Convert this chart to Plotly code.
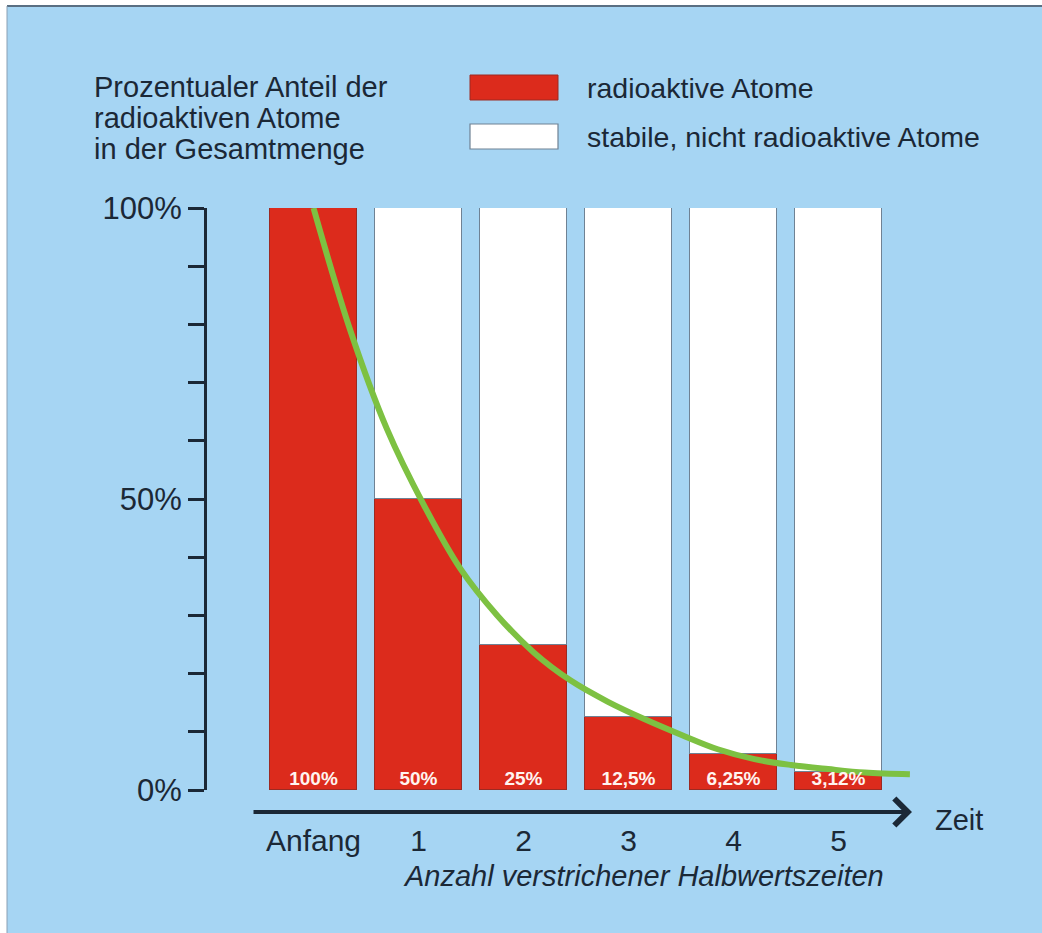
import plotly.graph_objects as go

# data
categories = ["Anfang", "1", "2", "3", "4", "5"]
radioactive = [100, 50, 25, 12.5, 6.25, 3.125]
stable = [100 - v for v in radioactive]
bar_labels = ["100%", "50%", "25%", "12,5%", "6,25%", "3,12%"]

curve_x = [0, 0.35, 0.7, 1.05, 1.4, 1.75, 2.1, 2.45, 2.8, 3.15, 3.5,
           3.85, 4.2, 4.55, 4.9, 5.25, 5.68]
curve_y = [100, 79, 62, 49, 38, 30.0, 23.6, 18.8, 15.2, 12.2, 9.5,
           7.0, 5.3, 4.3, 3.6, 3.0, 2.7]

y_ticks = [0, 10, 20, 30, 40, 50, 60, 70, 80, 90, 100]
y_ticktext = ["0%", "", "", "", "", "50%", "", "", "", "", "100%"]

BG = "#a6d5f3"
RED = "#dc2b1c"
GREEN = "#7dc142"
INK = "#1b2836"
FONT = "Liberation Sans, Arial, sans-serif"

# plot area in pixels: x 207..930, y 208..790
L, R, T, B = 207, 930, 208, 790


def px(x):
    return (x - L) / (R - L)


def py(y):
    return (B - y) / (B - T)


xpos = list(range(len(categories)))

fig = go.Figure()
fig.add_trace(go.Bar(x=xpos, y=radioactive, width=0.83,
                     marker_color=RED, marker_line_color="#9c2a22", marker_line_width=1))
fig.add_trace(go.Bar(x=xpos, y=stable, width=0.83,
                     marker_color="white", marker_line_color="#6f8294", marker_line_width=1.2))
fig.add_trace(go.Scatter(x=curve_x, y=curve_y, mode="lines",
                         line=dict(color=GREEN, width=6, shape="spline", smoothing=1),
                         cliponaxis=False))
fig.add_trace(go.Scatter(x=xpos, y=[1.7] * len(xpos), mode="text", text=bar_labels,
                         textfont=dict(family=FONT, size=19, color="#fff4f0", weight="bold"),
                         textposition="middle center", cliponaxis=False))

fig.update_layout(
    width=1042, height=933,
    margin=dict(l=L, r=1042 - R, t=T, b=933 - B),
    barmode="stack", showlegend=False,
    paper_bgcolor=BG, plot_bgcolor=BG,
    font=dict(family=FONT, color=INK),
    bargap=0,
)
fig.update_yaxes(range=[0, 100], tickvals=y_ticks, ticktext=y_ticktext,
                 showgrid=False, zeroline=False, showline=True,
                 linecolor=INK, linewidth=3, ticks="outside", ticklen=16,
                 tickwidth=3, tickcolor=INK, tickfont=dict(size=31, color=INK))
fig.update_xaxes(range=[(L - 313.5) / 105, (R - 313.5) / 105],
                 tickvals=xpos, ticktext=categories, showgrid=False,
                 zeroline=False, showline=False, ticks="",
                 ticklabelstandoff=30, tickfont=dict(size=30, color=INK))

# time arrow
fig.add_annotation(x=px(912), y=py(812), xref="paper", yref="paper",
                   ax=-(912 - 252), ay=0, text="", showarrow=True,
                   arrowhead=4, arrowsize=1.3, arrowwidth=4, arrowcolor=INK)

annots = [
    ("Prozentualer Anteil der", 92, 87, "left", False, 29),
    ("radioaktiven Atome", 92, 118, "left", False, 29),
    ("in der Gesamtmenge", 92, 149, "left", False, 29),
    ("radioaktive Atome", 585, 88, "left", False, 28.5),
    ("stabile, nicht radioaktive Atome", 585, 137, "left", False, 28.5),
    ("Zeit", 933, 820, "left", False, 29),
    ("Anzahl verstrichener Halbwertszeiten", 643, 876, "center", True, 29),
]
for txt, x, y, anchor, italic, size in annots:
    fig.add_annotation(x=px(x), y=py(y), xref="paper", yref="paper", text=txt,
                       showarrow=False, xanchor=anchor, yanchor="middle",
                       font=dict(size=size, color=INK, family=FONT,
                                 style="italic" if italic else "normal"))

# legend swatches
fig.add_shape(type="rect", xref="paper", yref="paper", x0=px(470), x1=px(558),
              y0=py(100), y1=py(75), fillcolor=RED, line=dict(color="#9c2a22", width=1))
fig.add_shape(type="rect", xref="paper", yref="paper", x0=px(470), x1=px(558),
              y0=py(149), y1=py(124), fillcolor="white", line=dict(color="#6f8294", width=1.2))

# white frame strips at top and left edge
fig.add_shape(type="rect", xref="paper", yref="paper", x0=px(0), x1=px(1042),
              y0=py(5), y1=py(0), fillcolor="white", line_width=0)
fig.add_shape(type="rect", xref="paper", yref="paper", x0=px(0), x1=px(7),
              y0=py(933), y1=py(0), fillcolor="white", line_width=0)
fig.add_shape(type="line", xref="paper", yref="paper", x0=px(7), x1=px(1042),
              y0=py(6), y1=py(6), line=dict(color="#5a6f82", width=2))
fig.add_shape(type="line", xref="paper", yref="paper", x0=px(7), x1=px(7),
              y0=py(6), y1=py(933), line=dict(color="#8aa0b4", width=1))

fig.write_html("out.html", config={"displayModeBar": False},
               post_script="document.body.style.margin='0px';"
                           "document.body.style.overflow='hidden';")
